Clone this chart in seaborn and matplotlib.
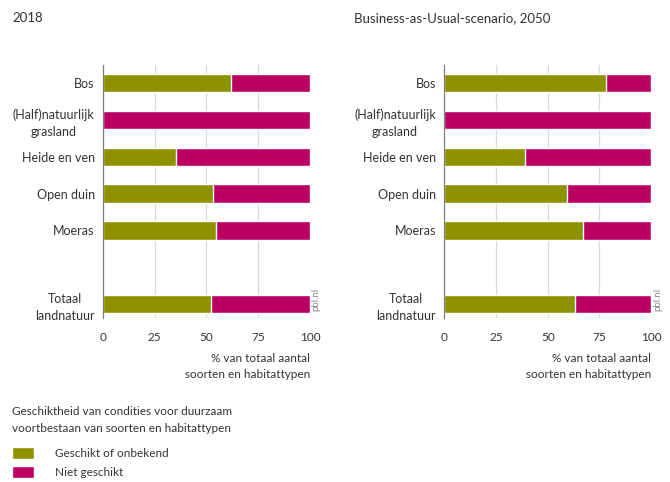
import pandas as pd
import matplotlib.pyplot as plt
import seaborn as sns
from matplotlib.patches import Patch

# Data (% of species and habitat types)
categories = ['Bos', '(Half)natuurlijk\ngrasland', 'Heide en ven', 'Open duin', 'Moeras', ' ', 'Totaal\nlandnatuur']
geschikt_2018 = [62, 0, 35.5, 53.3, 54.6, None, 52.2]
geschikt_2050 = [78.3, 0, 38.9, 59.5, 66.9, None, 63.4]
totaal = [100, 100, 100, 100, 100, None, 100]

titles = ['2018', 'Business-as-Usual-scenario, 2050']
legend_labels = ['Geschikt of onbekend', 'Niet geschikt']

green = '#8f9200'
magenta = '#ba0062'
textcol = '#333333'

sns.set_theme(style='white')
plt.rcParams['font.family'] = ['Lato', 'DejaVu Sans']

fig = plt.figure(figsize=(6.7, 4.82), dpi=100)
ax1 = fig.add_axes([0.1537, 0.340, 0.309, 0.525])
ax2 = fig.add_axes([0.663, 0.340, 0.309, 0.525])

for ax, vals, title, tx in [(ax1, geschikt_2018, titles[0], 12 / 670),
                            (ax2, geschikt_2050, titles[1], 354 / 670)]:
    df = pd.DataFrame({'cat': categories, 'totaal': totaal, 'geschikt': vals})
    df = df[df['totaal'].notna()]
    sns.barplot(data=df, y='cat', x='totaal', order=categories, color=magenta,
                saturation=1, width=0.5, ax=ax, orient='h')
    sns.barplot(data=df[df['geschikt'] > 0], y='cat', x='geschikt', order=categories,
                color=green, saturation=1, width=0.5, ax=ax, orient='h')
    ax.set_xlim(0, 100)
    ax.set_ylim(6.38, -0.49)
    ax.set_xticks([0, 25, 50, 75, 100])
    ax.tick_params(axis='x', length=4, color='#d9d9d9', labelsize=8.5,
                   labelcolor=textcol, pad=6)
    ax.tick_params(axis='y', length=0, labelsize=9, labelcolor=textcol, pad=6)
    ax.set_yticks(range(len(categories)))
    ax.set_yticklabels(categories, linespacing=1.5, multialignment='center',
                       fontsize=9, color=textcol)
    ax.set_axisbelow(True)
    ax.grid(axis='x', color='#d9d9d9', linewidth=0.9)
    for s in ['top', 'right', 'bottom']:
        ax.spines[s].set_visible(False)
    ax.spines['left'].set_color('#7f7f7f')
    ax.spines['left'].set_linewidth(0.9)
    ax.set_ylabel('')
    ax.set_xlabel('% van totaal aantal\nsoorten en habitattypen', fontsize=8.5,
                  color=textcol, ha='right', va='top', linespacing=1.55)
    ax.xaxis.set_label_coords(1.0, -0.137, transform=ax.transAxes)
    ax.xaxis.get_label().set_verticalalignment('top')
    ax.text(1.03, 0.03, 'pbl.nl', transform=ax.transAxes, rotation=90,
            fontsize=7, color='#888888', ha='center', va='bottom')
    fig.text(tx, 1 - 18 / 482, title, fontsize=9.5, color=textcol, va='center')

fig.text(12 / 670, 1 - 420 / 482,
         'Geschiktheid van condities voor duurzaam\nvoortbestaan van soorten en habitattypen',
         fontsize=8.5, color=textcol, va='center', linespacing=1.6)
handles = [Patch(facecolor=green), Patch(facecolor=magenta)]
fig.legend(handles, legend_labels, loc='upper left',
           bbox_to_anchor=(1 / 670, 1 - 436 / 482), frameon=False,
           fontsize=8.5, labelcolor=textcol, handlelength=1.9, handleheight=1.2,
           handletextpad=1.8, labelspacing=0.6)

fig.savefig('out.png', dpi=100)
